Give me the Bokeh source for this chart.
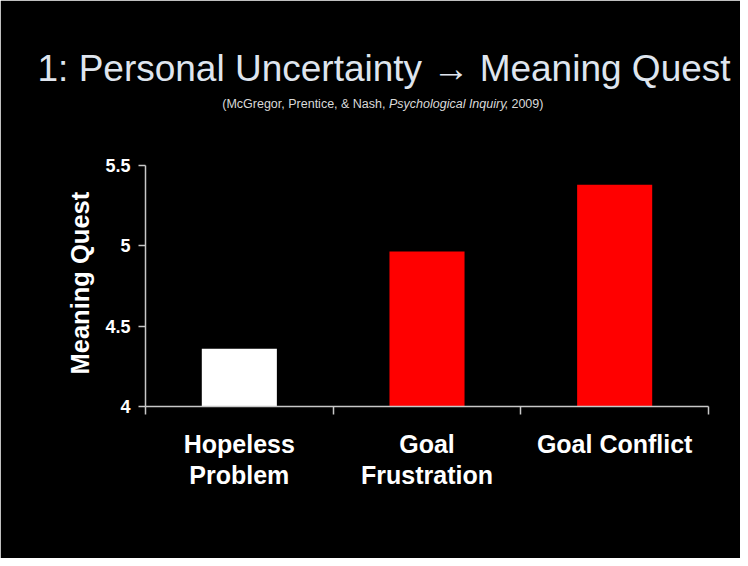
from bokeh.plotting import figure
from bokeh.models import FixedTicker, Range1d, Title
from bokeh.core.properties import value
from bokeh.embed import file_html
from bokeh.resources import INLINE

categories = ["Hopeless\nProblem", "Goal\nFrustration", "Goal Conflict"]
values = [4.36, 4.965, 5.38]
colors = ["#ffffff", "#ff0000", "#ff0000"]
y_ticks = [4, 4.5, 5, 5.5]
y_tick_labels = ["4", "4.5", "5", "5.5"]
y_axis_title = "Meaning Quest"

title_text = "1: Personal Uncertainty \u2192 Meaning Quest"
sub_parts = ["(McGregor, Prentice, & Nash,", "Psychological Inquiry", ", 2009)"]

FONT = "Liberation Sans"
W, H = 740, 558
# layout (page pixels)
F_LEFT, F_RIGHT = 145, 708
F_TOP, AXIS_TOP, F_BOTTOM = 90, 165, 406
y_min, y_max = y_ticks[0], y_ticks[-1]
y_top = y_max + (AXIS_TOP - F_TOP) * (y_max - y_min) / (F_BOTTOM - AXIS_TOP)

x_pos = [i + 0.5 for i in range(len(categories))]

p = figure(width=W, height=H, output_backend="svg", toolbar_location=None,
           x_range=Range1d(0, len(categories)), y_range=Range1d(y_min, y_top),
           min_border_left=F_LEFT, min_border_right=W - F_RIGHT,
           min_border_top=F_TOP, min_border_bottom=H - F_BOTTOM,
           background_fill_color="black", border_fill_color="black",
           outline_line_color="black", outline_line_width=2)
p.extra_x_ranges = {"px": Range1d(F_LEFT, F_RIGHT)}
p.extra_y_ranges = {"px": Range1d(F_BOTTOM, F_TOP)}

p.vbar(x=x_pos, top=values, bottom=y_min, width=0.4, fill_color=colors, line_color=None)
p.xgrid.visible = False
p.ygrid.visible = False

axis_color = "#c8c8c8"
xa = p.xaxis[0]
xa.ticker = FixedTicker(ticks=x_pos, minor_ticks=list(range(len(categories) + 1)))
xa.major_label_overrides = {x: c for x, c in zip(x_pos, categories)}
xa.axis_line_color = axis_color
xa.axis_line_width = 1.5
xa.major_tick_line_color = None
xa.major_tick_out = 0
xa.major_tick_in = 0
xa.minor_tick_line_color = axis_color
xa.minor_tick_line_width = 1.5
xa.minor_tick_out = 8
xa.minor_tick_in = 0
xa.major_label_standoff = 15
xa.major_label_text_font = FONT
xa.major_label_text_font_style = "bold"
xa.major_label_text_font_size = "25px"
xa.major_label_text_color = "white"
xa.major_label_text_line_height = 1.12

ya = p.yaxis[0]
ya.bounds = (y_min, y_max)
ya.ticker = FixedTicker(ticks=y_ticks, minor_ticks=[])
ya.major_label_overrides = {t: l for t, l in zip(y_ticks, y_tick_labels)}
ya.axis_line_color = axis_color
ya.axis_line_width = 1.5
ya.major_tick_line_color = axis_color
ya.major_tick_line_width = 1.5
ya.major_tick_out = 7
ya.major_tick_in = 0
ya.minor_tick_line_color = None
ya.major_label_standoff = 8
ya.major_label_text_font = FONT
ya.major_label_text_font_style = "bold"
ya.major_label_text_font_size = "18px"
ya.major_label_text_color = "white"

# y-axis title, placed beside the axis and centred on the value span
p.add_layout(Title(text=y_axis_title, align="left", offset=32,
                   text_font=FONT, text_font_size="25.5px", text_font_style="bold",
                   text_color="white", standoff=18), "left")

# main title (above the frame)
p.add_layout(Title(text=title_text, align="left", offset=37 - F_LEFT,
                   text_font=FONT, text_font_size="37px", text_font_style="normal",
                   text_color="#dfe5ee", standoff=4), "above")

# reference line (inside the frame, pixel-unit ranges)
sub_y = 103.5
common = dict(y_range_name="px", x_range_name="px", text_baseline="alphabetic",
              text_font=value(FONT), text_font_size="12.5px", text_color="#d9d9d9")
p.text(x=[385], y=[sub_y], text=[sub_parts[0]], text_align="right", **common)
p.text(x=[388.5], y=[sub_y], text=[sub_parts[1]], text_align="left",
       text_font_style="italic", **common)
p.text(x=[504], y=[sub_y], text=[sub_parts[2]], text_align="left", **common)

open("out.html", "w").write(file_html(p, INLINE))
